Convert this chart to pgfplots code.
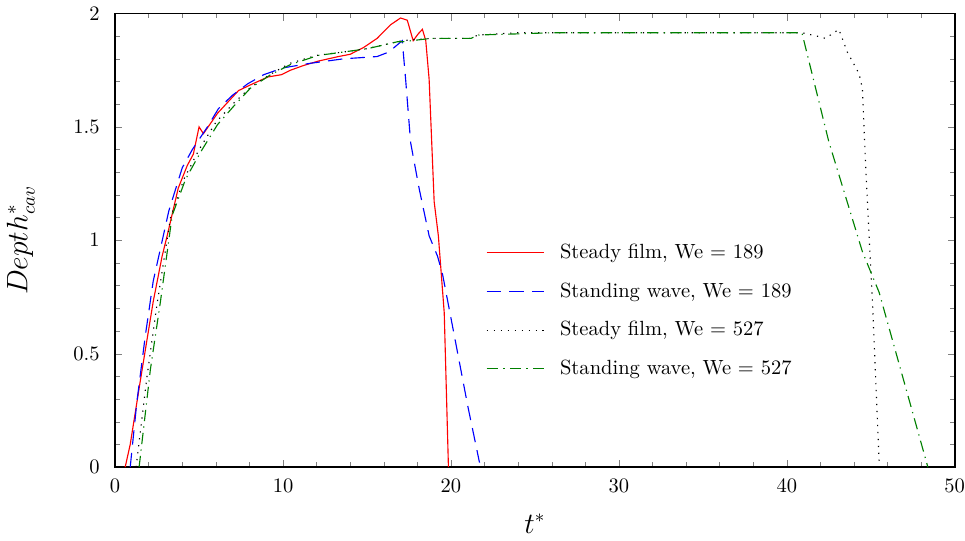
\documentclass[border=0pt]{standalone}
\usepackage{pgfplots}
\pgfplotsset{compat=1.18}
\definecolor{dgreen}{rgb}{0,0.5,0}
\begin{document}
\begin{tikzpicture}
\begin{axis}[
  scale only axis,
  width=409pt, height=221pt,
  xmin=0, xmax=50, ymin=0, ymax=2,
  xtick={0,10,...,50}, minor x tick num=4,
  ytick={0,0.5,1,1.5,2}, minor y tick num=4,
  xlabel={$t^*$}, ylabel={$Depth^*_{cav}$},
  label style={font=\fontsize{13.5}{16}\selectfont},
  xlabel style={yshift=-3.5pt},
  ylabel style={yshift=12pt},
  yticklabel style={xshift=-4pt},
  xticklabel style={yshift=-2.5pt, inner xsep=0pt},
  major tick length=3.5pt, minor tick length=2.4pt,
  axis line style={line width=0.8pt},
  legend style={at={(0.434,0.511)}, anchor=north west, draw=none, fill=none, row sep=6.3pt, column sep=5.5pt},
  legend cell align=left,
  legend image post style={xscale=1.64},
  every axis plot/.append style={line width=0.55pt},
]
% Steady film, We = 189
\addplot[red, solid] coordinates {
(0.6,0) (0.9,0.1) (1.5,0.38) (2.27,0.73) (2.8,0.93) (3.1,1.02) (3.76,1.23) (4.3,1.33) (4.66,1.38) (5.0,1.50) (5.26,1.47) (6.1,1.56) (6.6,1.60) (7.35,1.66) (8.2,1.69) (9.1,1.72) (9.9,1.73) (10.45,1.75) (11.2,1.77) (12.1,1.79) (13.3,1.81) (14.0,1.82) (14.8,1.85) (15.6,1.89) (16.4,1.95) (17.0,1.98) (17.4,1.97) (17.75,1.88) (18.05,1.91) (18.3,1.93) (18.5,1.88) (18.7,1.71) (19.0,1.17) (19.25,1.02) (19.6,0.68) (19.85,0)
};
\addlegendentry{Steady film, We = 189}
% Standing wave, We = 189
\addplot[blue, dash pattern=on 7pt off 4pt] coordinates {
(0.9,0) (1.3,0.29) (1.8,0.58) (2.27,0.82) (3.2,1.13) (4.0,1.32) (4.6,1.40) (5.5,1.50) (6.15,1.58) (7.0,1.64) (7.9,1.69) (8.85,1.73) (10.0,1.76) (11.6,1.78) (13.6,1.80) (15.6,1.81) (16.3,1.83) (17.1,1.88) (17.3,1.71) (17.6,1.43) (18.1,1.23) (18.7,1.02) (19.2,0.93) (19.5,0.85) (20.2,0.58) (21.0,0.27) (21.7,0.02)
};
\addlegendentry{Standing wave, We = 189}
% Steady film, We = 527
\addplot[black, dash pattern=on 0.6pt off 2.8pt] coordinates {
(1.25,0) (1.9,0.40) (2.5,0.72) (3.3,1.10) (4.1,1.27) (5.0,1.40) (6.0,1.52) (7.0,1.60) (8.0,1.67) (9.2,1.73) (10.4,1.78) (12.0,1.815) (13.6,1.83) (15.0,1.845) (16.8,1.875) (17.1,1.88) (18.8,1.89) (21.2,1.89) (21.6,1.905) (24,1.915) (40.9,1.915) (41.8,1.90) (42.3,1.89) (43.1,1.93) (43.6,1.83) (44.3,1.735) (44.5,1.67) (44.7,1.32) (44.9,1.02) (45.1,0.73) (45.5,0.02)
};
\addlegendentry{Steady film, We = 527}
% Standing wave, We = 527
\addplot[dgreen, dash pattern=on 5.5pt off 2.6pt on 0.6pt off 2.6pt] coordinates {
(1.43,0) (2.1,0.43) (2.7,0.73) (3.4,1.11) (4.2,1.27) (5.1,1.39) (6.1,1.51) (7.05,1.59) (8.05,1.67) (9.26,1.73) (10.45,1.775) (12.1,1.815) (13.6,1.83) (15.05,1.845) (16.8,1.875) (17.1,1.875) (18.8,1.89) (21.2,1.89) (21.6,1.905) (24,1.91) (26,1.915) (40.9,1.915) (42.5,1.435) (44.5,0.95) (45.5,0.77) (48.4,0)
};
\addlegendentry{Standing wave, We = 527}
\end{axis}
\end{tikzpicture}
\end{document}
